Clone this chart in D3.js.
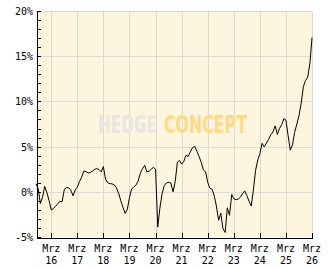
<!DOCTYPE html>
<html>
<head>
<meta charset="utf-8">
<script src="https://cdn.jsdelivr.net/npm/d3@7"></script>
<style>
  body { margin: 0; background: #fff; }
  svg text { font-family: "DejaVu Sans Mono", monospace; font-size: 10px; fill: #000; }
</style>
</head>
<body>
<svg id="chart" width="332" height="269"></svg>
<script>
// monthly performance in %, Aug 2015 .. Mar 2026
const startMonth = new Date(2015, 7, 1);
const endMonth = new Date(2026, 2, 1);
const values = [
  0.9, 0.35, -1.3, -0.6, 0.6, -0.1, -1.0, -2.0, -1.85, -1.6,
  -1.33, -1.05, -1.1, 0.28, 0.46, 0.44, 0.17, -0.44, 0.22, 0.5,
  1.13, 1.62, 2.31, 2.23, 2.09, 2.14, 2.29, 2.49, 2.56, 2.45,
  2.2, 2.8, 1.38, 1.0, 0.9, 0.88, 0.76, 0.43, -0.15, -1.0,
  -1.71, -2.4, -1.9, -0.66, 0.31, 0.52, 0.74, 1.18, 2.06, 2.56,
  2.93, 2.2, 2.27, 2.51, 2.7, 2.5, -3.9, -1.8, -0.2, 0.68,
  0.98, 1.05, 0.98, 0.0, 1.1, 3.29, 3.46, 3.06, 3.37, 4.03,
  3.92, 4.42, 4.87, 5.03, 4.48, 3.9, 3.26, 2.4, 2.2, 1.08,
  0.39, 0.3, -0.44, -1.57, -3.15, -2.38, -4.07, -4.5, -1.77, -2.6,
  -0.3, -0.75, -0.88, -0.82, -0.6, -0.23, 0.1, -0.41, -1.05, -1.57,
  0.17, 2.38, 3.54, 4.2, 5.36, 4.98, 5.4, 5.8, 6.3, 6.62,
  7.29, 6.35, 7.0, 7.44, 8.1, 7.92, 6.19, 4.6, 5.2, 6.57,
  7.51, 8.45, 9.83, 11.66, 12.32, 12.7, 14.3, 17.07
];
const yearLabels = ['16', '17', '18', '19', '20', '21', '22', '23', '24', '25', '26'];
const monthLabel = 'Mrz';
const yTicks = [-5, 0, 5, 10, 15, 20];

const data = values.map((v, i) => ({ date: d3.timeMonth.offset(startMonth, i), value: v }));

const svg = d3.select('#chart');
const plotLeft = 36, plotRight = 312, plotTop = 11, plotBottom = 237;

const x = d3.scaleTime().domain([startMonth, endMonth]).range([plotLeft, plotRight]);
const y = d3.scaleLinear().domain([-5, 20]).range([plotBottom, plotTop]);

const marchTicks = yearLabels.map(yy => new Date(2000 + +yy, 2, 1));

// plot background
svg.append('rect')
  .attr('x', plotLeft).attr('y', plotTop)
  .attr('width', plotRight - plotLeft).attr('height', plotBottom - plotTop)
  .attr('fill', '#fdf5dd');

// grid
const grid = svg.append('g').attr('stroke', '#dcdad6').attr('stroke-width', 1).attr('shape-rendering', 'crispEdges');
grid.selectAll('.hg').data(yTicks.slice(1)).enter().append('line')
  .attr('x1', plotLeft).attr('x2', plotRight)
  .attr('y1', d => Math.round(y(d)) + 0.5).attr('y2', d => Math.round(y(d)) + 0.5);
grid.selectAll('.vg').data(marchTicks).enter().append('line')
  .attr('x1', d => Math.round(x(d)) + 0.5).attr('x2', d => Math.round(x(d)) + 0.5)
  .attr('y1', plotTop).attr('y2', plotBottom);

// watermark, squeezed horizontally to fit its box
function watermark(label, x0, w, color) {
  const t = svg.append('text')
    .style('font-family', '"DejaVu Sans", sans-serif').style('font-size', '25px')
    .style('font-weight', 'bold').style('fill', color)
    .text(label);
  const natural = t.node().getComputedTextLength();
  t.attr('transform', `translate(${x0},133) scale(${w / natural},1)`);
}
watermark('HEDGE', 98, 59, '#e9e6df');
watermark('CONCEPT', 164, 83, '#ffd988');

// line
svg.append('path')
  .datum(data)
  .attr('fill', 'none')
  .attr('stroke', '#000')
  .attr('stroke-width', 1)
  .attr('d', d3.line().x(d => x(d.date)).y(d => y(d.value)));

// y axis
const yAxis = svg.append('g').attr('transform', `translate(${plotLeft + 0.5},0)`)
  .call(d3.axisRight(y).tickValues(d3.range(-5, 21, 1)).tickSize(4).tickFormat(''));
yAxis.select('.domain').attr('stroke', '#000');
yAxis.attr('shape-rendering', 'crispEdges');
svg.selectAll('.ylab').data(yTicks).enter().append('text')
  .attr('x', 33).attr('y', d => y(d) + 4)
  .attr('text-anchor', 'end')
  .text(d => d + '%');

// x axis
const xAxis = svg.append('g').attr('transform', `translate(0,${plotBottom + 0.5})`)
  .call(d3.axisTop(x).tickValues(marchTicks).tickSize(5).tickSizeOuter(0).tickFormat(''));
xAxis.attr('shape-rendering', 'crispEdges');
xAxis.select('.domain').attr('stroke', '#000');
svg.selectAll('.xlab').data(marchTicks).enter().append('text')
  .attr('x', d => x(d)).attr('y', 252)
  .attr('text-anchor', 'middle')
  .text(monthLabel);
svg.selectAll('.xlab2').data(marchTicks).enter().append('text')
  .attr('x', d => x(d)).attr('y', 264)
  .attr('text-anchor', 'middle')
  .text((d, i) => yearLabels[i]);
</script>
</body>
</html>
